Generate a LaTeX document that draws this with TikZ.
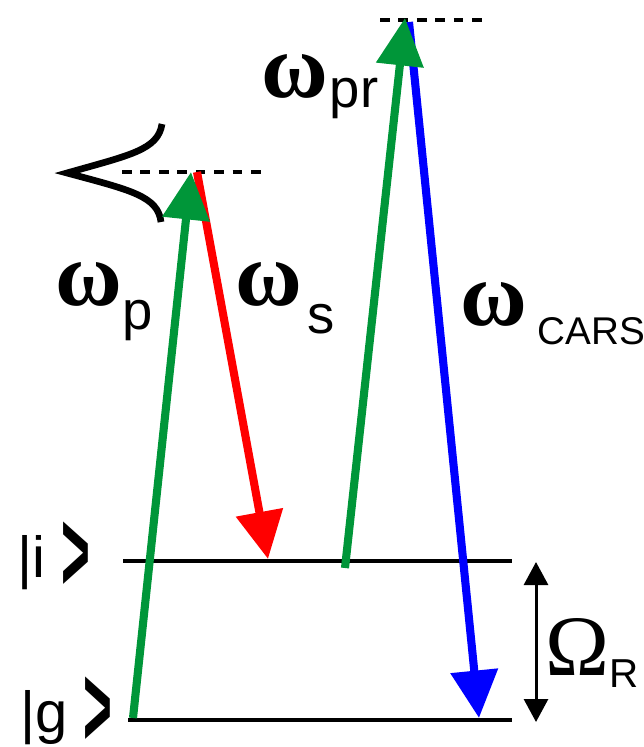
\documentclass[tikz,border=0pt]{standalone}
\usepackage{fontspec}
\setmainfont{Liberation Sans}
\newfontfamily\serifgreek{Liberation Serif}
\usetikzlibrary{arrows.meta}
\definecolor{pumpgreen}{RGB}{0,150,57}
\definecolor{stokesred}{RGB}{255,0,0}
\definecolor{carsblue}{RGB}{0,0,255}
\tikzset{
  level/.style={line width=2.3pt, color=black},
  beam/.style={line width=4.6pt, -{Triangle[length=0.95cm, width=0.92cm]}},
  virtual/.style={dashed, line width=2.2pt, dash pattern=on 5.5pt off 5pt},
  lbl/.style={inner sep=0pt, anchor=base west},
  ramanshift/.style={line width=1.7pt, {Triangle[length=0.46cm, width=0.48cm]}-{Triangle[length=0.46cm, width=0.48cm]}}
}
\newcommand{\wsym}{{\serifgreek\bfseries\fontsize{52}{52}\selectfont ω}}
\newcommand{\subtxt}[3]{\hspace{#1}\raisebox{-#2}{\fontsize{31}{31}\selectfont #3}}
\newcommand{\ketsym}[1]{{\fontsize{33}{33}\selectfont |#1}\hspace{9pt}\raisebox{-8pt}{\scalebox{0.85}[2.0]{\fontsize{33}{33}\selectfont\bfseries >}}}

\begin{document}
\begin{tikzpicture}[x=0.02cm, y=-0.02cm]
\useasboundingbox (0,0) rectangle (643,747);

% energy levels
\coordinate (g0) at (128,720);
\coordinate (g1) at (512,720);
\coordinate (i0) at (123,561);
\coordinate (i1) at (512,561);
\draw[level] (g0) -- (g1);
\draw[level] (i0) -- (i1);

% virtual levels
\coordinate (v0) at (122,172);
\coordinate (v1) at (268,172);
\coordinate (u0) at (380,20);
\coordinate (u1) at (485,20);
\draw[virtual] (v0) -- (v1);
\draw[virtual] (u0) -- (u1);

% spectral profile
\draw[line width=3.8pt] (162,124) .. controls (158,150) and (130,155) .. (67,173)
  .. controls (130,190) and (158,196) .. (161,222);

% beams
\coordinate (stokesA) at (197,172);
\coordinate (stokesB) at (268,559);
\coordinate (carsA)   at (409,22);
\coordinate (carsB)   at (479,718);
\coordinate (pumpA)   at (133,718);
\coordinate (pumpB)   at (191,172);
\coordinate (probeA)  at (345,568);
\coordinate (probeB)  at (405,18);
\draw[beam, color=stokesred] (stokesA) -- (stokesB);
\draw[beam, color=carsblue]  (carsA)   -- (carsB);
\draw[beam, color=pumpgreen] (pumpA)   -- (pumpB);
\draw[beam, color=pumpgreen] (probeA)  -- (probeB);

% Raman shift
\coordinate (shA) at (536,562);
\coordinate (shB) at (536,722);
\draw[ramanshift] (shA) -- (shB);

% labels
\node[lbl] (wp)   at (55,305)  {\wsym\subtxt{0pt}{14pt}{p}};
\node[lbl] (ws)   at (235,305) {\wsym\subtxt{3pt}{16pt}{s}};
\node[lbl] (wpr)  at (261,97)  {\wsym\subtxt{1pt}{6pt}{pr}};
\node[lbl] (wc)   at (460,325) {\wsym\hspace{6pt}\raisebox{-11pt}{\fontsize{22}{22}\selectfont CARS}};
\node[lbl] (om)   at (545,675) {{\serifgreek\fontsize{49}{49}\selectfont Ω}\raisebox{-7pt}{\fontsize{23}{23}\selectfont R}};
\node[lbl] (keti) at (17,577)  {\ketsym{i}};
\node[lbl] (ketg) at (20,732)  {\ketsym{g}};
\end{tikzpicture}
\end{document}
